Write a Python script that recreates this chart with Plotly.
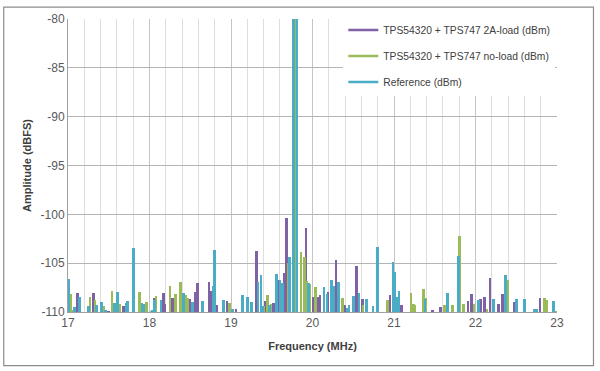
import plotly.graph_objects as go

# ---- data ----
BASE = -110

load_freq = [17.12, 17.31, 17.50, 17.68, 18.06, 18.17, 18.19, 18.28, 18.49, 18.56,
             18.59, 18.73, 18.75, 18.83, 18.95, 19.06, 19.31, 19.37, 19.42, 19.52,
             19.59, 19.65, 19.68, 19.77, 19.92, 19.96, 20.01, 20.07, 20.09, 20.19,
             20.29, 20.40, 20.54, 20.61, 20.95, 21.09, 21.47, 21.57, 21.91, 21.95,
             22.06, 22.11, 22.18, 22.28, 22.33, 22.47, 22.79, 22.95]
load_amp = [-108.1, -108.1, -109.9, -109.4, -108.6, -108.1, -109.2, -108.6, -108.7, -108.0,
            -107.0, -106.9, -107.9, -109.3, -108.9, -109.7, -103.8, -106.3, -108.9, -109.1,
            -106.7, -106.0, -100.4, -75.0, -101.4, -107.6, -108.5, -108.5, -108.3, -108.0,
            -104.7, -109.3, -105.3, -108.7, -108.3, -109.3, -109.8, -109.5, -108.9, -108.2,
            -108.7, -108.5, -106.5, -109.2, -108.2, -109.0, -108.6, -108.9]

noload_freq = [17.03, 17.05, 17.27, 17.33, 17.44, 17.54, 17.63, 17.88, 17.96, 18.02,
               18.08, 18.25, 18.32, 18.38, 18.45, 18.47, 18.98, 19.40, 19.45, 19.49,
               19.62, 19.70, 19.79, 19.86, 19.90, 19.93, 19.97, 20.04, 20.37, 20.62,
               20.92, 21.21, 21.24, 21.26, 21.36, 21.39, 21.62, 21.72, 21.80, 21.85,
               21.98, 22.03, 22.14, 22.39, 22.85, 22.87, 22.99]
noload_amp = [-108.2, -109.8, -108.5, -108.8, -109.4, -107.8, -109.2, -108.0, -109.0, -109.9,
              -108.4, -107.3, -108.2, -106.9, -108.3, -108.6, -109.1, -109.4, -108.3, -109.2,
              -109.0, -105.0, -75.0, -103.9, -104.4, -106.8, -107.1, -107.4, -108.6, -109.3,
              -108.8, -108.1, -109.2, -109.3, -107.6, -108.6, -109.3, -109.3, -102.2, -109.2,
              -109.2, -108.8, -109.7, -106.7, -108.6, -108.8, -109.9]

ref_freq = [17.01, 17.08, 17.14, 17.25, 17.35, 17.41, 17.46, 17.57, 17.61, 17.71,
            17.73, 17.80, 17.91, 17.93, 18.03, 18.06, 18.14, 18.42, 18.53, 18.65,
            18.78, 18.80, 18.91, 19.02, 19.14, 19.20, 19.25, 19.33, 19.37, 19.39,
            19.47, 19.56, 19.60, 19.63, 19.72, 19.77, 19.81, 19.95, 20.14, 20.18,
            20.23, 20.26, 20.32, 20.43, 20.45, 20.50, 20.57, 20.66, 20.74, 20.80,
            20.99, 21.01, 21.04, 21.06, 21.38, 21.66, 21.79, 22.04, 22.22, 22.37,
            22.50, 22.60, 22.72, 22.75, 22.96]
ref_amp = [-106.6, -109.5, -108.5, -109.4, -109.3, -109.0, -109.8, -109.1, -108.0, -109.1,
           -108.9, -103.4, -109.1, -109.2, -109.8, -108.8, -108.8, -108.1, -109.0, -108.9,
           -107.3, -103.7, -108.8, -109.7, -108.3, -108.5, -109.0, -106.9, -106.2, -109.4,
           -109.3, -106.1, -106.7, -107.0, -104.4, -70.0, -70.0, -107.0, -107.4, -108.2,
           -106.7, -107.3, -106.9, -109.6, -109.3, -108.4, -108.1, -108.7, -109.4, -103.3,
           -104.9, -105.9, -108.5, -107.9, -108.7, -108.1, -104.3, -108.8, -108.7, -106.2,
           -108.7, -108.7, -109.7, -109.7, -108.9]

series = [
    ("TPS54320 + TPS747 2A-load (dBm)", load_freq, load_amp, "#7f62a5"),
    ("TPS54320 + TPS747 no-load (dBm)", noload_freq, noload_amp, "#9bbb59"),
    ("Reference (dBm)", ref_freq, ref_amp, "#4bacc6"),
]

x_ticks = [17, 18, 19, 20, 21, 22, 23]
y_ticks = [-80, -85, -90, -95, -100, -105, -110]

FONT = "Liberation Sans"
fig = go.Figure()
for name, fx, amp, col in series:
    fig.add_trace(go.Bar(
        x=fx, y=[a - BASE for a in amp], base=BASE, width=0.032,
        marker=dict(color=col, line=dict(width=0)),
        name=name, legendgroup=name, showlegend=False,
    ))
for name, fx, amp, col in series:
    fig.add_trace(go.Scatter(
        x=[None], y=[None], mode="lines", line=dict(color=col, width=2.5),
        name=name, legendgroup=name, showlegend=True,
    ))

fig.update_layout(
    width=600, height=371,
    margin=dict(l=68, r=42.5, t=15, b=59.3),
    paper_bgcolor="white", plot_bgcolor="white",
    barmode="overlay", bargap=0,
    font=dict(family=FONT, size=11, color="#404040"),
    showlegend=True,
    legend=dict(x=0.563, y=1.012, xanchor="left", yanchor="top",
                bgcolor="white", borderwidth=0,
                font=dict(family=FONT, size=10.3, color="#404040"),
                tracegroupgap=7, itemwidth=30),
    xaxis=dict(range=[17, 23], tickvals=x_ticks, ticktext=[str(t) for t in x_ticks],
               showgrid=True, gridcolor="#c4c4c4", gridwidth=1,
               minor=dict(dtick=0.2, tick0=17, showgrid=True, gridcolor="#dedede", gridwidth=1),
               showline=True, linecolor="#a0a0a0", linewidth=1, ticks="",
               zeroline=False,
               tickfont=dict(family=FONT, size=12, color="#595959"),
               title=dict(text="<b>Frequency (MHz)</b>", standoff=12,
                          font=dict(family=FONT, size=11, color="#404040"))),
    yaxis=dict(range=[-110, -80], tickvals=y_ticks, ticktext=[str(t) for t in y_ticks],
               showgrid=True, gridcolor="#b4b4b4", gridwidth=1,
               showline=True, linecolor="#a0a0a0", linewidth=1, ticks="",
               zeroline=False,
               tickfont=dict(family=FONT, size=12, color="#595959"),
               title=dict(text="<b>Amplitude (dBFS)</b>", standoff=6,
                          font=dict(family=FONT, size=11, color="#404040"))),
    shapes=[dict(type="rect", xref="paper", yref="paper",
                 x0=-0.1314, x1=1.0746, y0=-0.183, y1=1.0405,
                 line=dict(color="#8c8c8c", width=1.2), fillcolor="rgba(0,0,0,0)")],
)

fig.write_html("out.html", config={"displayModeBar": False},
               post_script="document.body.style.margin='0';")
